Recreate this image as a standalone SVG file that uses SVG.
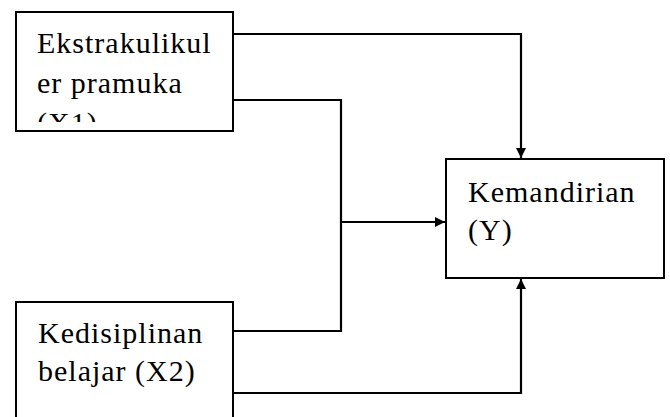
<svg xmlns="http://www.w3.org/2000/svg" width="670" height="417" viewBox="0 0 670 417">
  <defs>
    <marker id="arrow" viewBox="0 0 10 10" refX="10" refY="5" markerWidth="10" markerHeight="10" markerUnits="userSpaceOnUse" orient="auto">
      <path d="M0,0 L10,5 L0,10 Z" fill="#000000"/>
    </marker>
    <clipPath id="clipX1">
      <rect x="17" y="13" width="215" height="109"/>
    </clipPath>
  </defs>

  <g id="connectors" fill="none" stroke="#000000" stroke-width="2.2">
    <!-- X1 top wire down to Y -->
    <polyline points="233,34 521,34 521,158" marker-end="url(#arrow)"/>
    <!-- X1 lower wire joining X2 upper wire -->
    <polyline points="233,100 341,100 341,331 233,331"/>
    <!-- junction to Y left side -->
    <polyline points="341,222 445,222" marker-end="url(#arrow)"/>
    <!-- X2 bottom wire up to Y -->
    <polyline points="233,393 521,393 521,279" marker-end="url(#arrow)"/>
  </g>

  <g font-family="Liberation Serif" font-size="30" letter-spacing="1" fill="#000000">
    <g id="node-x1">
      <rect x="16" y="12" width="217" height="119" fill="#ffffff" stroke="#000000" stroke-width="2"/>
      <g clip-path="url(#clipX1)">
        <text x="37" y="53">Ekstrakulikul</text>
        <text x="37" y="93">er pramuka</text>
        <text x="37" y="133">(X1)</text>
      </g>
    </g>

    <g id="node-x2">
      <rect x="16" y="302" width="217" height="130" fill="#ffffff" stroke="#000000" stroke-width="2"/>
      <text x="38" y="343">Kedisiplinan</text>
      <text x="38" y="381">belajar (X2)</text>
    </g>

    <g id="node-y">
      <rect x="446" y="159" width="218" height="119" fill="#ffffff" stroke="#000000" stroke-width="2"/>
      <text x="468" y="202">Kemandirian</text>
      <text x="468" y="240">(Y)</text>
    </g>
  </g>
</svg>
